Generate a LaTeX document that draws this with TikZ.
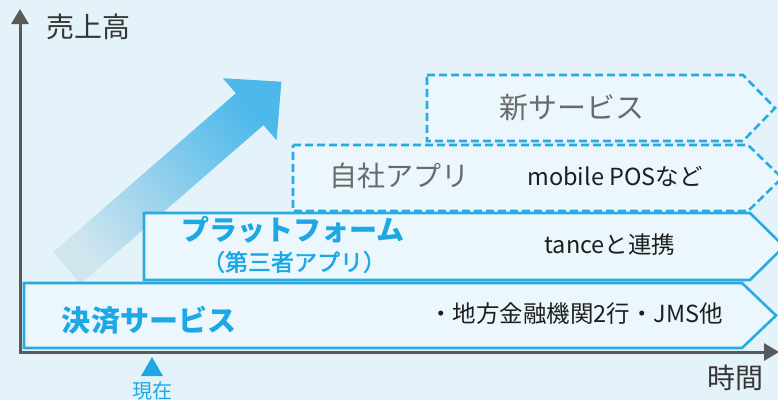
\documentclass[tikz,border=0pt]{standalone}
\usepackage{fontspec}
\setmainfont{Noto Sans CJK JP}
\newfontfamily\medfont[FakeBold=2]{Noto Sans CJK JP}
\usetikzlibrary{arrows.meta}
\definecolor{bgc}{HTML}{E4F3FA}
\definecolor{boxfill}{HTML}{EBF7FC}
\definecolor{boxline}{HTML}{29ABE2}
\definecolor{titleblue}{HTML}{1DA8E5}
\definecolor{graytext}{HTML}{6A6A6A}
\definecolor{darktext}{HTML}{1E1E1E}
\definecolor{axisc}{HTML}{595959}
\definecolor{arrdark}{HTML}{4DB8EA}
\definecolor{arrlight}{HTML}{D0E6EF}
\tikzset{
  axisline/.style={draw=axisc, line width=3bp, -{Triangle[length=15bp,width=17bp]}},
  solidbox/.style={draw=boxline, fill=boxfill, line width=2.6bp, line join=miter},
  dashbox/.style={draw=boxline, fill=boxfill, line width=2.6bp, dash pattern=on 8bp off 4bp},
  bigtitle/.style={text=titleblue, font=\fontsize{29bp}{32bp}\selectfont\bfseries},
  subtitle/.style={text=titleblue, font=\medfont\fontsize{23bp}{26bp}\selectfont},
  graylabel/.style={text=graytext, font=\fontsize{28bp}{30bp}\selectfont},
  smalltext/.style={text=darktext, font=\fontsize{23.5bp}{26bp}\selectfont},
  axislabel/.style={text=darktext!90, font=\fontsize{28bp}{30bp}\selectfont},
  nowlabel/.style={text=titleblue, font=\fontsize{20bp}{22bp}\selectfont},
}
\begin{document}
\begin{tikzpicture}[x=1bp,y=-1bp]
\useasboundingbox (0,0) rectangle (778,400);
\fill[bgc] (0,0) rectangle (778,400);

% big gradient arrow
\shade[top color=arrdark, bottom color=arrlight, shading angle=-49]
  (53.2,252.1) -- (235.9,93.3) -- (222.8,78.2) -- (281.4,81.7)
  -- (276.6,140.2) -- (263.5,125.1) -- (80.8,283.9) -- cycle;

% boxes
\draw[solidbox] (144,213) -- (750,213) -- (784,246.5) -- (750,280) -- (144,280) -- cycle;
\draw[solidbox] (24,283) -- (742,283) -- (776,315.5) -- (742,348) -- (24,348) -- cycle;
\draw[dashbox] (293,145) -- (748,145) -- (782,178) -- (748,211) -- (293,211) -- cycle;
\draw[dashbox] (427,75) -- (743,75) -- (775,108) -- (743,141) -- (427,141) -- cycle;

% axes
\coordinate (O) at (20,352);
\coordinate (ytop) at (20,9);
\coordinate (xend) at (779,352);
\draw[axisline] (O) -- (ytop);
\draw[axisline] ([xshift=-1.5bp]O) -- (xend);

% labels
\node[axislabel] (ylab) at (88,27) {売上高};
\node[axislabel] (xlab) at (735,378) {時間};
\fill[titleblue] (152,357) -- (163,376) -- (141,376) -- cycle;
\node[nowlabel] (now) at (152,391) {現在};

\node[bigtitle] (pay) at (149,320) {決済サービス};
\node[smalltext] (paytxt) at (576,314) {・地方金融機関2行・JMS他};

\node[bigtitle, font=\fontsize{28bp}{30bp}\selectfont\bfseries] (plat) at (293,230) {プラットフォーム};
\node[subtitle] (platsub) at (294,262) {（第三者アプリ）};
\node[smalltext] (plattxt) at (610,245) {tanceと連携};

\node[graylabel] (own) at (399,176) {自社アプリ};
\node[smalltext] (owntxt) at (615,177) {mobile POSなど};

\node[graylabel, font=\fontsize{29bp}{32bp}\selectfont] (newsvc) at (572,108) {新サービス};
\end{tikzpicture}
\end{document}
